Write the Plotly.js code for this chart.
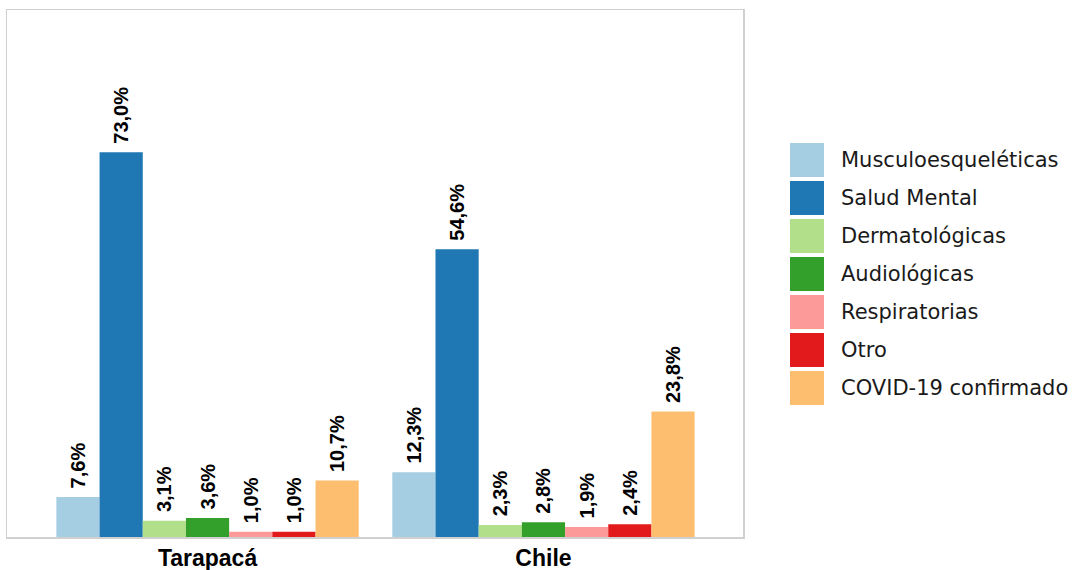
<!DOCTYPE html>
<html>
<head>
<meta charset="utf-8">
<script src="https://cdn.plot.ly/plotly-3.0.1.min.js"></script>
<style>html,body{margin:0;padding:0;background:#fff;}#chart{width:1077px;height:570px;}</style>
</head>
<body>
<div id="chart"></div>
<script>
const regions = ["Tarapacá", "Chile"];
const seriesNames = ["Musculoesqueléticas", "Salud Mental", "Dermatológicas", "Audiológicas", "Respiratorias", "Otro", "COVID-19 confirmado"];
const seriesColors = ["#A6CEE3", "#1F78B4", "#B2DF8A", "#33A02C", "#FB9A99", "#E31A1C", "#FDBF6F"];
const musculo = [7.6, 12.3];
const saludMental = [73.0, 54.6];
const dermato = [3.1, 2.3];
const audio = [3.6, 2.8];
const respira = [1.0, 1.9];
const otro = [1.0, 2.4];
const covid = [10.7, 23.8];
const seriesValues = [musculo, saludMental, dermato, audio, respira, otro, covid];

const W = 1077, H = 570;
const mL = 7, mT = 10, mR = 334, mB = 33;
const pw = W - mL - mR, ph = H - mT - mB;
const fmt = v => '\u00a0' + v.toFixed(1).replace('.', ',') + '%';

const traces = seriesNames.map((name, i) => ({
  type: 'bar',
  name: name,
  x: regions,
  y: seriesValues[i],
  marker: {color: seriesColors[i]},
  text: seriesValues[i].map(fmt),
  textposition: 'outside',
  textangle: -90,
  constraintext: 'none',
  cliponaxis: false,
  textfont: {family: 'Liberation Sans, Arial, sans-serif', size: 20, color: '#000', weight: 'bold'},
  showlegend: false,
  hoverinfo: 'skip'
}));

const shapes = [];
const annotations = [];
const px2x = px => (px - mL) / pw;
const py2y = py => (H - mB - py) / ph;
seriesNames.forEach((name, i) => {
  const top = 143 + i * 38;
  shapes.push({type: 'rect', xref: 'paper', yref: 'paper',
    x0: px2x(790), x1: px2x(824), y0: py2y(top + 34), y1: py2y(top),
    fillcolor: seriesColors[i], line: {width: 0}});
  annotations.push({xref: 'paper', yref: 'paper', x: px2x(839), y: py2y(top + 17),
    xanchor: 'left', yanchor: 'middle', showarrow: false, text: name,
    font: {family: 'DejaVu Sans, sans-serif', size: 21, color: '#1a1a1a'}});
});

const layout = {
  width: W, height: H,
  margin: {l: mL, r: mR, t: mT, b: mB, pad: 0},
  paper_bgcolor: '#fff', plot_bgcolor: '#fff',
  barmode: 'group', bargap: 0.1, bargroupgap: 0,
  showlegend: false,
  xaxis: {range: [-0.597, 1.594], showgrid: false, zeroline: false, ticks: '', showline: true, mirror: true,
    linecolor: '#d0d0d0', linewidth: 1.5,
    tickfont: {family: 'Liberation Sans, Arial, sans-serif', size: 23, color: '#000', weight: 'bold'}},
  yaxis: {range: [0, 100], showgrid: false, zeroline: false, showticklabels: false, ticks: '', showline: true, mirror: true,
    linecolor: '#d0d0d0', linewidth: 1.5},
  shapes: shapes,
  annotations: annotations
};

Plotly.newPlot('chart', traces, layout, {displayModeBar: false, staticPlot: true});
</script>
</body>
</html>
